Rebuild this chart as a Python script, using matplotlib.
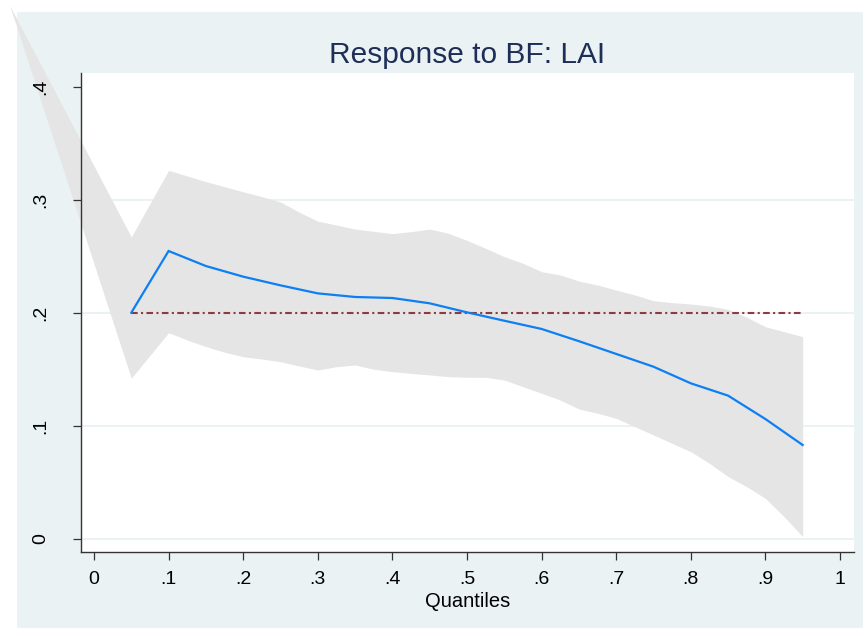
import matplotlib
matplotlib.use("Agg")
import matplotlib.pyplot as plt
from matplotlib.patches import Rectangle

plt.rcParams['font.family'] = ['Liberation Sans', 'DejaVu Sans']

# ---- data ----
quantiles = [0.05, 0.10, 0.15, 0.20, 0.25, 0.30, 0.35, 0.40, 0.45, 0.50,
             0.55, 0.60, 0.65, 0.70, 0.75, 0.80, 0.85, 0.90, 0.95]
response = [0.200, 0.2546, 0.2413, 0.2319, 0.2242, 0.2171, 0.2139, 0.2130, 0.2083, 0.2003,
            0.1929, 0.1856, 0.1748, 0.1635, 0.1522, 0.1375, 0.1266, 0.1059, 0.0829]

band_q = [-0.113, 0.05, 0.10, 0.125, 0.15, 0.175, 0.20, 0.225, 0.25, 0.275, 0.30, 0.325,
          0.35, 0.375, 0.40, 0.425, 0.45, 0.475, 0.50, 0.525, 0.55, 0.575, 0.60, 0.625,
          0.65, 0.675, 0.70, 0.725, 0.75, 0.775, 0.80, 0.825, 0.85, 0.875, 0.90, 0.925, 0.95]
band_upper = [0.472, 0.267, 0.326, 0.321, 0.316, 0.3115, 0.307, 0.3027, 0.298, 0.289, 0.281, 0.2776,
              0.274, 0.272, 0.270, 0.2717, 0.274, 0.2703, 0.264, 0.257, 0.2496, 0.2437, 0.2363, 0.2334,
              0.228, 0.2245, 0.220, 0.2157, 0.2106, 0.2089, 0.2077, 0.2059, 0.203, 0.196, 0.1876, 0.1832, 0.1788]
band_lower = [0.472, 0.142, 0.1823, 0.1758, 0.170, 0.165, 0.161, 0.159, 0.1566, 0.1528, 0.1493, 0.1522,
              0.1537, 0.150, 0.1478, 0.1463, 0.1449, 0.1434, 0.1428, 0.1428, 0.1404, 0.1345, 0.1287, 0.1227,
              0.1148, 0.111, 0.1065, 0.0991, 0.0918, 0.0844, 0.077, 0.0667, 0.0549, 0.046, 0.0357, 0.0195, 0.0018]

ref_value = 0.2
ref_range = [0.05, 0.95]

xticks = [0, 0.1, 0.2, 0.3, 0.4, 0.5, 0.6, 0.7, 0.8, 0.9, 1.0]
xticklabels = ['0', '.1', '.2', '.3', '.4', '.5', '.6', '.7', '.8', '.9', '1']
yticks = [0, 0.1, 0.2, 0.3, 0.4]
yticklabels = ['0', '.1', '.2', '.3', '.4']

title = "Response to BF: LAI"
xlabel = "Quantiles"

# ---- figure ----
W, H = 863, 628
fig = plt.figure(figsize=(W / 100, H / 100), dpi=100, facecolor='white')
bg = Rectangle((17 / W, 0), 1 - 17 / W, (H - 12) / H, transform=fig.transFigure,
               facecolor='#EAF2F3', edgecolor='none', zorder=-10)
fig.patches.append(bg)

left, right, top, bottom = 80.7, 854, 72.7, 552
ax = fig.add_axes([left / W, 1 - bottom / H, (right - left) / W, (bottom - top) / H])
ax.set_facecolor('white')

ax.set_xlim(-0.0178, 1.0188)
ax.set_ylim(-0.0118, 0.4124)

# grid lines (Stata style, no grid at top label)
for yv in yticks[:-1]:
    ax.axhline(yv, color='#EAF2F3', lw=1.4, zorder=0.5)

ax.fill_between(band_q, band_lower, band_upper, color='#E5E5E5', lw=0,
                clip_on=False, zorder=1)
ax.plot(ref_range, [ref_value, ref_value], color='#8E3B3F', lw=1.5,
        dashes=(3.2, 1.6, 1.0, 1.6), zorder=2)
ax.plot(quantiles, response, color='#0D7FF2', lw=1.6, zorder=3,
        solid_joinstyle='miter')

for s in ['top', 'right']:
    ax.spines[s].set_visible(False)
for s in ['left', 'bottom']:
    ax.spines[s].set_color('#333333')
    ax.spines[s].set_linewidth(1.0)
    ax.spines[s].set_zorder(5)

ax.set_xticks(xticks)
ax.set_xticklabels(xticklabels)
ax.set_yticks(yticks)
ax.set_yticklabels(yticklabels, rotation=90, va='center')
ax.tick_params(axis='x', length=5.8, width=0.9, color='#333333', pad=8,
               labelsize=14, labelcolor='black')
ax.tick_params(axis='y', length=5.8, width=0.9, color='#333333', pad=16.5,
               labelsize=14, labelcolor='black')

ax.set_xlabel(xlabel, fontsize=14.5, color='black', labelpad=2.5)
fig.text((left + right) / 2 / W, 1 - 63.3 / H, title, ha='center', va='baseline',
         fontsize=21.5, color='#1E2E57')

fig.savefig('out.png', dpi=100, facecolor=fig.get_facecolor())
